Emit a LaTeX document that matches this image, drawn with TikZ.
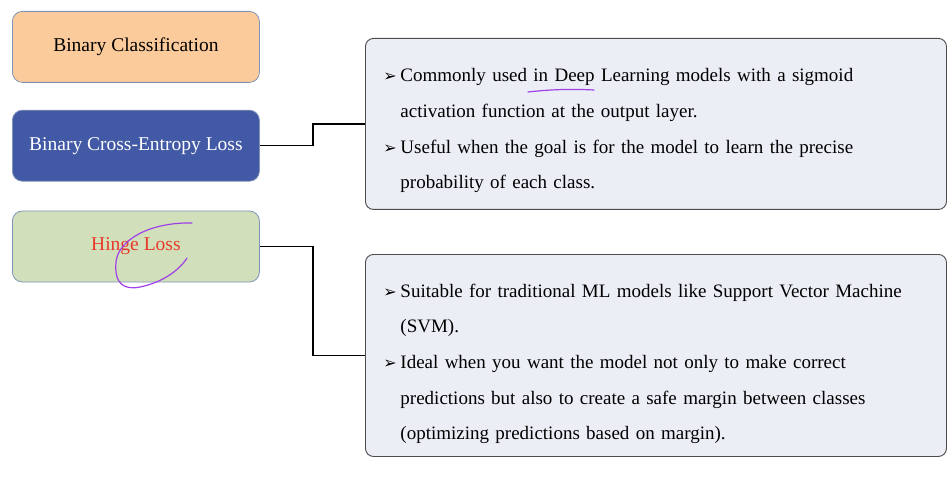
\documentclass[tikz,border=0pt]{standalone}
\usepackage{fontspec}
\setmainfont{Liberation Serif}
\newfontfamily\dingfont{DejaVu Sans}
\usepackage{xcolor}
\usetikzlibrary{positioning}

\definecolor{peach}{HTML}{FBCB9B}
\definecolor{navy}{HTML}{4259A5}
\definecolor{sage}{HTML}{D1E0BA}
\definecolor{frame}{HTML}{7F93B8}
\definecolor{panel}{HTML}{ECEEF6}
\definecolor{hingered}{HTML}{E8382B}
\definecolor{ink}{HTML}{A040E8}

\newcommand{\bul}{\makebox[17pt][l]{\dingfont\fontsize{16}{16}\selectfont ➢}}
\newcommand{\ind}{\hspace*{17pt}}
\newcommand{\topgap}[1]{\rule{0pt}{#1}}

\begin{document}
\begin{tikzpicture}[
  x=1pt, y=-1pt,
  font=\fontsize{19.5}{24}\selectfont,
  node distance=27pt and 0pt,
  lossbox/.style={
    rectangle,
    draw=frame,
    fill=#1,
    rounded corners=10pt,
    minimum width=247pt,
    minimum height=71pt,
    align=center,
    line width=0.8pt
  },
  lossbox/.default=peach,
  infobox/.style={
    rectangle,
    draw=black!70,
    fill=panel,
    rounded corners=8pt,
    text width=545pt,
    inner xsep=18pt,
    align=left,
    line width=0.9pt,
    font=\fontsize{19}{35.7}\selectfont
  },
  link/.style={
    line width=1.6pt,
    black
  },
  inkline/.style={
    draw=ink,
    line width=1.2pt,
    line cap=round
  }
]

\useasboundingbox (0,0) rectangle (952,478);

% --- Loss boxes on the left -----------------------------------------

\node[lossbox=peach, anchor=north west] (binclass) at (12,11)
{Binary Classification};

\node[lossbox=navy, text=white, below=of binclass] (bce)
{Binary Cross-Entropy Loss};

\node[lossbox=sage, text=hingered, below=29pt of bce] (hinge)
{Hinge Loss};

% --- Explanation panels ---------------------------------------------

\node[infobox, minimum height=171pt, anchor=north west] (bceinfo) at (365,38)
{\topgap{27pt}\bul Commonly used in Deep Learning models with a sigmoid\\
 \ind activation function at the output layer.\\
 \bul Useful when the goal is for the model to learn the precise\\
 \ind probability of each class.};

\node[infobox, minimum height=202pt, anchor=north west] (hingeinfo) at (365,254)
{\topgap{30pt}\bul Suitable for traditional ML models like Support Vector Machine\\
 \ind (SVM).\\
 \bul Ideal when you want the model not only to make correct\\
 \ind predictions but also to create a safe margin between classes\\
 \ind (optimizing predictions based on margin).};

% --- Connectors -----------------------------------------------------

\draw[link] (bce.east) -- ++(53,0) |- (bceinfo.west);
\draw[link] (hinge.east) -- ++(53,0) |- (hingeinfo.west);

% --- Pen marks ------------------------------------------------------

\draw[inkline] (528,92) .. controls (555,89) and (575,89) .. (594,90);
\draw[inkline] (192,223) .. controls (150,222) and (118,240) .. (116,262)
  .. controls (114,285) and (125,290) .. (140,287)
  .. controls (160,283) and (178,272) .. (187,258);

\end{tikzpicture}
\end{document}
